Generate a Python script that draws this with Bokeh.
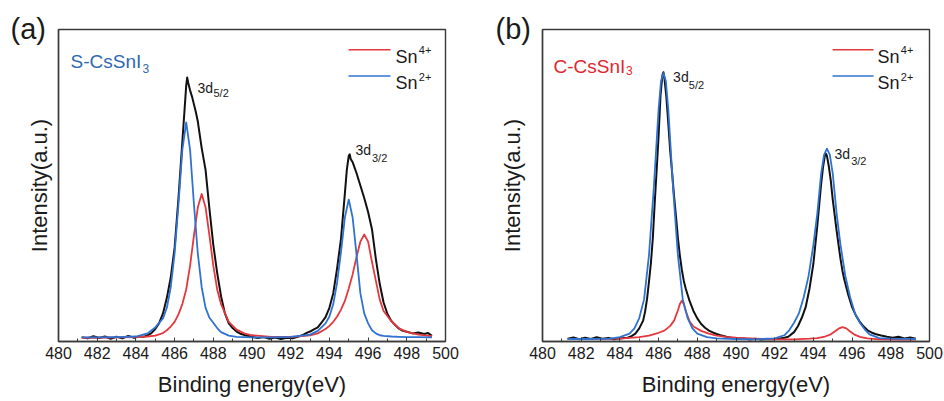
from bokeh.plotting import figure
from bokeh.models import Range1d, Label, FixedTicker
from bokeh.layouts import row
from bokeh.embed import file_html
from bokeh.resources import INLINE

# ---------------- data ----------------
x_ticks = [480, 482, 484, 486, 488, 490, 492, 494, 496, 498, 500]
x_minor = [481, 483, 485, 487, 489, 491, 493, 495, 497, 499]

# panel (a) S-CsSnI3 : fitted components on a common energy grid
a_fit_x = [481.2, 482.0, 483.0, 484.0, 484.6, 485.0, 485.4, 485.6, 485.8, 486.0,
           486.2, 486.4, 486.6, 486.8, 487.0, 487.2, 487.4, 487.6, 487.8, 488.0,
           488.2, 488.4, 488.8, 489.2, 489.6, 490.0, 491.0, 492.0, 492.6, 493.0,
           493.4, 493.8, 494.0, 494.2, 494.4, 494.6, 494.8, 495.0, 495.2, 495.4,
           495.6, 495.8, 496.0, 496.2, 496.4, 496.6, 496.8, 497.2, 497.6, 498.0,
           498.6, 499.3]
a_sn2 = [1.3, 1.3, 1.4, 1.6, 2.6, 4.5, 7.4, 10.8, 17.4, 28.2,
         44.0, 61.4, 70.2, 61.4, 44.0, 28.2, 17.4, 10.8, 7.6, 6.0,
         4.3, 3.0, 1.9, 1.5, 1.4, 1.3, 1.3, 1.5, 1.9, 2.2,
         3.4, 5.8, 8.0, 12.0, 19.0, 28.7, 39.8, 45.5, 39.8, 28.0,
         15.5, 9.0, 5.8, 3.6, 2.6, 2.0, 1.8, 1.6, 1.5, 1.4,
         1.4, 1.3]
a_sn4 = [1.2, 1.2, 1.3, 1.4, 1.6, 1.9, 2.7, 3.6, 4.8, 6.3,
         8.7, 12.0, 16.7, 24.3, 34.0, 43.0, 47.3, 43.0, 34.0, 24.3,
         16.7, 12.0, 6.3, 3.8, 2.6, 2.0, 1.5, 1.5, 1.7, 2.0,
         2.6, 4.0, 5.0, 6.3, 8.0, 10.2, 13.0, 17.0, 21.5, 27.0,
         32.0, 34.3, 32.0, 25.5, 19.5, 13.5, 9.8, 6.5, 4.2, 3.1,
         2.2, 1.7]

# panel (a) measured spectrum
a_data_x = [481.2, 481.5, 481.8, 482.1, 482.4, 482.7, 483.0, 483.3, 483.6, 483.9,
            484.2, 484.4, 484.6, 484.8, 485.0, 485.2, 485.4, 485.6, 485.8, 486.0,
            486.2, 486.4, 486.5, 486.6, 486.65, 486.7, 486.8, 486.9, 487.0, 487.1,
            487.2, 487.4, 487.6, 487.8, 488.0, 488.2, 488.4, 488.6, 488.8, 489.0,
            489.2, 489.4, 489.7, 490.0, 490.3, 490.6, 490.9, 491.2, 491.5, 491.8,
            492.1, 492.4, 492.6, 492.8, 493.0, 493.2, 493.4, 493.6, 493.8, 494.0,
            494.2, 494.4, 494.6, 494.8, 494.9, 495.0, 495.05, 495.1, 495.2, 495.4,
            495.6, 495.8, 496.0, 496.2, 496.4, 496.6, 496.8, 497.0, 497.2, 497.4,
            497.6, 497.8, 498.0, 498.3, 498.6, 498.9, 499.1, 499.3]
a_data_y = [1.4, 1.0, 1.7, 1.1, 1.6, 0.9, 1.5, 1.0, 1.8, 1.2,
            1.6, 1.5, 2.0, 2.7, 4.0, 5.9, 9.0, 14.0, 20.5, 30.0,
            46.0, 64.0, 73.0, 82.0, 84.6, 83.0, 80.5, 78.5, 76.0, 73.5,
            70.5, 62.0, 55.0, 42.5, 31.0, 22.0, 14.5, 9.0, 5.8, 4.3,
            3.2, 2.5, 1.9, 1.5, 1.1, 1.4, 0.9, 1.3, 0.8, 1.2,
            1.0, 1.6, 2.0, 2.7, 3.2, 3.9, 4.5, 6.1, 7.8, 10.8,
            15.5, 23.5, 33.0, 47.5, 55.0, 59.5, 60.0, 58.5, 57.5, 54.0,
            50.0, 46.0, 41.5, 36.0, 26.5, 18.5, 12.5, 8.8, 6.6, 5.3,
            4.1, 3.4, 3.1, 2.6, 2.9, 2.4, 2.7, 1.8]

# panel (b) C-CsSnI3 : fitted components
b_sn2_x = [481.3, 482.5, 483.5, 484.0, 484.5, 484.75, 485.0, 485.25, 485.5, 485.75,
           486.0, 486.125, 486.25, 486.375, 486.5, 486.75, 487.0, 487.25, 487.5, 487.75,
           488.0, 488.5, 489.0, 490.0, 491.0, 492.0, 492.5, 492.75, 493.0, 493.25,
           493.5, 493.75, 494.0, 494.2, 494.4, 494.55, 494.7, 494.85, 495.0, 495.2,
           495.4, 495.65, 495.9, 496.15, 496.4, 496.65, 496.9, 497.4, 498.0, 499.3]
b_sn2 = [0.8, 0.8, 0.9, 1.4, 2.5, 4.2, 7.5, 13.5, 27.5, 49.0,
         74.5, 83.5, 86.0, 83.5, 74.5, 49.0, 27.5, 13.5, 7.5, 4.2,
         2.5, 1.4, 1.0, 0.8, 0.7, 1.0, 2.0, 3.6, 6.0, 9.0,
         14.2, 21.0, 31.0, 41.0, 53.8, 59.8, 61.8, 59.8, 53.8, 41.0,
         31.0, 21.0, 14.2, 9.0, 6.0, 3.9, 2.3, 1.1, 0.9, 0.8]
b_sn4_x = [481.3, 484.0, 485.0, 485.5, 486.0, 486.3, 486.6, 486.8, 487.0, 487.1,
           487.2, 487.3, 487.4, 487.6, 487.8, 488.2, 488.6, 489.0, 489.5, 490.0,
           491.0, 492.0, 493.0, 493.8, 494.2, 494.6, 494.9, 495.1, 495.3, 495.5,
           495.7, 495.9, 496.1, 496.4, 496.8, 497.4, 498.5, 499.3]
b_sn4 = [0.8, 0.9, 1.4, 1.9, 2.8, 3.5, 5.0, 6.7, 10.0, 12.0,
         13.1, 12.0, 9.8, 6.5, 4.8, 3.4, 2.5, 1.9, 1.5, 1.2,
         0.9, 0.7, 0.7, 0.9, 1.1, 1.6, 2.3, 3.2, 4.1, 4.6,
         4.2, 3.2, 2.3, 1.5, 1.0, 0.7, 0.6, 0.6]

# panel (b) measured spectrum
b_data_x = [481.3, 481.6, 481.9, 482.2, 482.5, 482.8, 483.1, 483.4, 483.7, 484.0,
            484.2, 484.4, 484.6, 484.8, 485.0, 485.2, 485.3, 485.4, 485.5, 485.6,
            485.7, 485.8, 485.9, 486.0, 486.1, 486.2, 486.25, 486.3, 486.4, 486.5,
            486.6, 486.7, 486.8, 486.9, 487.0, 487.1, 487.2, 487.3, 487.4, 487.5,
            487.6, 487.8, 488.0, 488.2, 488.4, 488.6, 488.8, 489.0, 489.2, 489.5,
            489.8, 490.1, 490.4, 490.7, 491.0, 491.3, 491.6, 491.9, 492.2, 492.5,
            492.7, 493.0, 493.2, 493.4, 493.6, 493.8, 494.0, 494.2, 494.4, 494.5,
            494.6, 494.65, 494.7, 494.8, 494.9, 495.0, 495.1, 495.2, 495.3, 495.4,
            495.5, 495.6, 495.8, 496.0, 496.2, 496.4, 496.6, 496.8, 497.0, 497.2,
            497.5, 497.8, 498.1, 498.4, 498.7, 499.0, 499.3]
b_data_y = [0.9, 1.3, 0.7, 1.2, 0.8, 1.4, 0.9, 1.1, 0.7, 1.0,
            1.1, 1.2, 1.7, 2.5, 4.2, 6.7, 9.5, 13.5, 19.0, 25.0,
            33.0, 44.5, 55.0, 66.0, 79.0, 85.5, 86.3, 84.5, 78.5, 70.0,
            61.0, 54.0, 46.5, 40.0, 33.0, 27.5, 23.0, 19.5, 17.0, 15.0,
            13.0, 9.8, 7.4, 5.6, 4.4, 3.5, 2.9, 2.4, 2.0, 1.5,
            1.1, 0.8, 1.0, 0.6, 0.9, 0.6, 0.8, 0.7, 0.9, 1.2,
            1.5, 3.0, 4.9, 7.6, 11.0, 17.0, 25.0, 37.0, 50.5, 56.0,
            59.8, 60.2, 59.5, 56.0, 51.5, 45.5, 40.5, 35.5, 31.0, 26.5,
            22.7, 19.8, 15.0, 11.0, 8.3, 6.3, 4.8, 3.6, 2.9, 2.4,
            1.9, 1.5, 1.2, 1.5, 1.0, 1.3, 0.9]

# ---------------- style ----------------
FONT = "Liberation Sans"
RED = "#e5383d"
BLUE = "#2f72d2"
BLACK = "#111111"
TXT = "#1a1a1a"
FRAME = "#3a3a3a"


def make_panel(width, border_left, border_right, ylab_standoff, tag, tag_offset):
    p = figure(width=width, height=400, output_backend="svg", toolbar_location=None,
               x_range=Range1d(480, 500), y_range=Range1d(0, 100),
               min_border_left=border_left, min_border_right=border_right,
               min_border_top=29, min_border_bottom=59)
    p.xgrid.visible = False
    p.ygrid.visible = False
    p.outline_line_color = FRAME
    p.outline_line_width = 1.4
    p.background_fill_color = "white"
    p.border_fill_color = "white"

    p.title.text = tag
    p.title.align = "left"
    p.title.vertical_align = "bottom"
    p.title.text_font = FONT
    p.title.text_font_size = "29px"
    p.title.text_font_style = "normal"
    p.title.text_color = TXT
    p.title.offset = tag_offset
    try:
        p.title.standoff = -30
    except Exception:
        p.title.standoff = 0

    ax = p.xaxis[0]
    ax.ticker = FixedTicker(ticks=x_ticks, minor_ticks=x_minor)
    ax.major_tick_in = 4
    ax.major_tick_out = 0
    ax.minor_tick_in = 3
    ax.minor_tick_out = 0
    ax.axis_line_color = FRAME
    ax.axis_line_width = 1.4
    ax.major_tick_line_color = FRAME
    ax.minor_tick_line_color = FRAME
    ax.major_label_text_font = FONT
    ax.major_label_text_font_size = "16px"
    ax.major_label_text_color = TXT
    ax.major_label_standoff = 5
    ax.axis_label = "Binding energy(eV)"
    ax.axis_label_text_font = FONT
    ax.axis_label_text_font_size = "22px"
    ax.axis_label_text_font_style = "normal"
    ax.axis_label_text_color = TXT
    ax.axis_label_standoff = 10

    ay = p.yaxis[0]
    ay.ticker = FixedTicker(ticks=[])
    ay.major_tick_in = 0
    ay.major_tick_out = 0
    ay.minor_tick_in = 0
    ay.minor_tick_out = 0
    ay.major_label_standoff = 0
    ay.axis_line_color = FRAME
    ay.axis_line_width = 1.4
    ay.axis_label = "Intensity(a.u.)"
    ay.axis_label_text_font = FONT
    ay.axis_label_text_font_size = "22px"
    ay.axis_label_text_font_style = "normal"
    ay.axis_label_text_color = TXT
    ay.axis_label_standoff = ylab_standoff
    return p


def label(p, x, y, text, size, color=TXT, baseline="alphabetic"):
    p.add_layout(Label(x=x, y=y, text=text, text_font=FONT, text_font_size=size,
                       text_color=color, text_align="left", text_baseline=baseline))


def legend(p, x0, x1, xt, xs):
    rows = [(93.5, 91.1, 93.4, RED, "4+"), (85.1, 82.8, 84.9, BLUE, "2+")]
    for yl, yt, ys, col, sup in rows:
        p.segment(x0=[x0], y0=[yl], x1=[x1], y1=[yl], line_color=col, line_width=1.6)
        label(p, xt, yt, "Sn", "18px")
        label(p, xs, ys, sup, "11px")


# ---------------- panel (a) ----------------
pa = make_panel(472, 58, 27, 7, "(a)", -48)
pa.line(a_data_x, a_data_y, line_color=BLACK, line_width=2, line_join="round")
pa.line(a_fit_x, a_sn4, line_color=RED, line_width=1.8, line_join="round")
pa.line(a_fit_x, a_sn2, line_color=BLUE, line_width=1.8, line_join="round")
label(pa, 480.62, 89.8, "S-CsSnI", "19px", color="#2f68b0")
label(pa, 484.34, 87.6, "3", "12px", color="#2f68b0")
legend(pa, 494.99, 497.16, 497.42, 498.62)
label(pa, 487.18, 81.3, "3d", "14px")
label(pa, 488.01, 79.7, "5/2", "11px")
label(pa, 495.35, 61.3, "3d", "14px")
label(pa, 496.20, 58.9, "3/2", "11px")

# ---------------- panel (b) ----------------
pb = make_panel(471, 70, 14, 18, "(b)", -47)
pb.line(b_data_x, b_data_y, line_color=BLACK, line_width=2, line_join="round")
pb.line(b_sn4_x, b_sn4, line_color=RED, line_width=1.8, line_join="round")
pb.line(b_sn2_x, b_sn2, line_color=BLUE, line_width=1.8, line_join="round")
label(pb, 480.57, 88.3, "C-CsSnI", "19px", color="#e0282e")
label(pb, 484.32, 87.0, "3", "12px", color="#e0282e")
legend(pb, 494.99, 497.11, 497.31, 498.52)
label(pb, 486.75, 84.8, "3d", "14px")
label(pb, 487.56, 82.3, "5/2", "11px")
label(pb, 495.09, 60.2, "3d", "14px")
label(pb, 495.95, 57.8, "3/2", "11px")

layout = row(pa, pb)
open("out.html", "w").write(file_html(layout, INLINE))
